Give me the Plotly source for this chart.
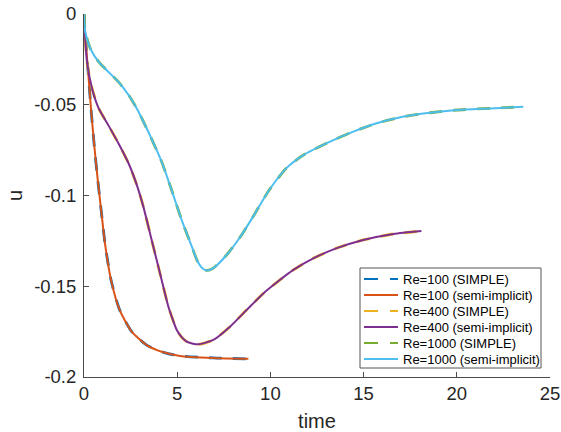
import plotly.graph_objects as go

# Re = 100
t_re100 = [0, 0.04, 0.11, 0.25, 0.39, 0.55, 0.73, 0.93, 1.14, 1.46, 1.91, 2.56, 3.36, 4.26, 5.15, 6.94, 8.82]
u_re100 = [0, -0.007, -0.0173, -0.0356, -0.054, -0.0724, -0.0907, -0.109, -0.1275, -0.147, -0.163,
           -0.175, -0.1824, -0.1864, -0.1884, -0.1895, -0.190]

# Re = 400
t_re400 = [0, 0.16, 0.43, 0.79, 1.32, 1.86, 2.4, 2.84, 3.18, 3.63, 4.08, 4.52, 4.75, 4.97, 5.25, 5.51,
           5.8, 6.13, 6.94, 7.83, 8.73, 9.62, 10.5, 11.23, 12.3, 13.56, 14.98, 16.6, 18.1]
u_re400 = [0, -0.0264, -0.041, -0.052, -0.0615, -0.0715, -0.0825, -0.0944, -0.106, -0.1245, -0.143,
           -0.161, -0.168, -0.174, -0.1782, -0.1805, -0.1815, -0.182, -0.1796, -0.1723, -0.163,
           -0.154, -0.1466, -0.141, -0.1346, -0.129, -0.1245, -0.1212, -0.1196]

# Re = 1000
t_re1000 = [0, 0.07, 0.34, 0.79, 1.32, 1.86, 2.4, 2.84, 3.11, 3.59, 4.17, 4.7, 5.24, 5.78, 6.1, 6.4,
            6.6, 6.94, 7.65, 8.37, 9.08, 9.9, 10.87, 11.77, 13.2, 14.45, 15.7, 17.1, 18.56, 20.0,
            21.8, 23.57]
u_re1000 = [0, -0.0099, -0.019, -0.0264, -0.032, -0.0375, -0.0448, -0.0522, -0.0577, -0.068,
            -0.0815, -0.097, -0.1135, -0.128, -0.1365, -0.1405, -0.1413, -0.140, -0.1328, -0.123,
            -0.1115, -0.0975, -0.0848, -0.0777, -0.0703, -0.0648, -0.0602, -0.0566, -0.0544,
            -0.0529, -0.052, -0.0511]

# SIMPLE results (visually coincide with the semi-implicit ones)
t_simple = {"100": t_re100, "400": t_re400, "1000": t_re1000}
u_simple = {"100": u_re100, "400": u_re400, "1000": u_re1000}

x_ticks = [0, 5, 10, 15, 20, 25]
y_ticks = [0, -0.05, -0.1, -0.15, -0.2]
y_tick_labels = ["0", "-0.05", "-0.1", "-0.15", "-0.2"]

DASH = "13px,11px"
series = [
    ("Re=100 (SIMPLE)", t_simple["100"], u_simple["100"], "#0072BD", DASH, 2.8),
    ("Re=100 (semi-implicit)", t_re100, u_re100, "#D95319", "solid", 2.0),
    ("Re=400 (SIMPLE)", t_simple["400"], u_simple["400"], "#EDB120", DASH, 2.8),
    ("Re=400 (semi-implicit)", t_re400, u_re400, "#7E2F8E", "solid", 2.0),
    ("Re=1000 (SIMPLE)", t_simple["1000"], u_simple["1000"], "#77AC30", DASH, 2.8),
    ("Re=1000 (semi-implicit)", t_re1000, u_re1000, "#4DBEEE", "solid", 2.0),
]

W, H = 561, 432
ML, MR, MT, MB = 84, 11, 14, 55
PW, PH = W - ML - MR, H - MT - MB


def px_x(p):
    return (p - ML) / PW


def px_y(p):
    return (H - MB - p) / PH


fig = go.Figure()
for name, t, u, col, dash, w in series:
    fig.add_trace(go.Scatter(x=t, y=u, mode="lines", name=name, showlegend=False,
                             line=dict(color=col, width=w, dash=dash, shape="spline", smoothing=0.6)))

font_family = "Liberation Sans, Arial, Helvetica, sans-serif"
axis_col = "#4a4a4a"

# legend box (MATLAB style), drawn with layout shapes / annotations
shapes = [dict(type="rect", xref="paper", yref="paper",
               x0=px_x(360), x1=px_x(541), y0=px_y(368), y1=px_y(268),
               line=dict(color="#555555", width=1), fillcolor="white", layer="above")]
annotations = []
for i, (name, t, u, col, dash, w) in enumerate(series):
    yc = 279 + 16 * i
    shapes.append(dict(type="line", xref="paper", yref="paper",
                       x0=px_x(364), x1=px_x(398), y0=px_y(yc), y1=px_y(yc),
                       line=dict(color=col, width=2.2, dash=("14px,12px" if dash != "solid" else "solid")),
                       layer="above"))
    annotations.append(dict(text=name, xref="paper", yref="paper", x=px_x(401), y=px_y(yc),
                            xanchor="left", yanchor="middle", showarrow=False,
                            font=dict(size=13, family=font_family, color="#000000")))

fig.update_layout(
    width=W, height=H,
    margin=dict(l=ML, r=MR, t=MT, b=MB),
    paper_bgcolor="white", plot_bgcolor="white",
    font=dict(family=font_family, color="#262626"),
    showlegend=False,
    shapes=shapes,
    annotations=annotations,
    xaxis=dict(range=[0, 25], tickvals=x_ticks, ticks="inside", ticklen=5, tickcolor=axis_col,
               showline=True, linecolor=axis_col, linewidth=1, showgrid=False, zeroline=False,
               tickfont=dict(size=18.5, color="#262626"),
               title=dict(text="time", font=dict(size=20, color="#262626"), standoff=12),
               automargin=False),
    yaxis=dict(range=[-0.2, 0], tickvals=y_ticks, ticktext=y_tick_labels, ticks="inside",
               ticklen=5, tickcolor=axis_col, ticklabelstandoff=3,
               showline=True, linecolor=axis_col, linewidth=1, showgrid=False, zeroline=False,
               tickfont=dict(size=18.5, color="#262626"),
               title=dict(text="u", font=dict(size=20, color="#262626"), standoff=6),
               automargin=False),
)

fig.write_html("out.html")
